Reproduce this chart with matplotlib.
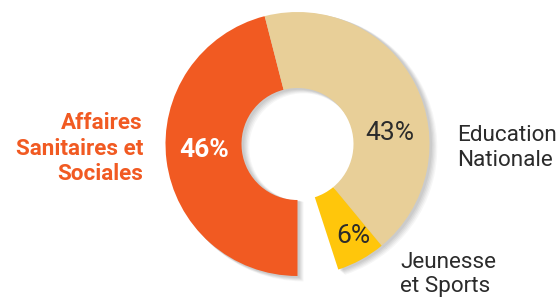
import matplotlib
matplotlib.use("Agg")
import matplotlib.pyplot as plt

# Data
labels = ["Affaires\nSanitaires et\nSociales", "Education\nNationale", "Jeunesse\net Sports"]
values = [46, 43, 6]
pct_labels = ["46%", "43%", "6%"]
colors = ["#F15A22", "#E8CF98", "#FFC60B"]
gap = 100 - sum(values)

W, H = 559, 298
fig = plt.figure(figsize=(W / 100, H / 100), dpi=100)
ax = fig.add_axes([0, 0, 1, 1])

cx, cy = 297.5, H - 144
R = 132
ring = 76

# soft shadow
for dx, a in [(6, 0.05), (5, 0.06), (4, 0.07), (3, 0.08), (2, 0.08)]:
    wed, _ = ax.pie(values + [gap], colors=["#555555"] * 3 + ["none"], startangle=270,
                    counterclock=False, radius=R + dx * 0.3, center=(cx + dx, cy - dx * 0.6),
                    wedgeprops=dict(width=ring + dx * 0.6, linewidth=0, alpha=a), frame=True)
    for w in wed:
        w.set_zorder(1)

wedges, _ = ax.pie(values + [gap], colors=colors + ["none"], startangle=270,
                   counterclock=False, radius=R, center=(cx, cy),
                   wedgeprops=dict(width=ring, linewidth=0), frame=True)
for w in wedges:
    w.set_zorder(3)
ax.set_xlim(0, W)
ax.set_ylim(0, H)
ax.set_aspect("equal")
ax.axis("off")

font = "Roboto"
dark = "#2b2b2b"
# percentage labels
ax.text(204, H - 157, pct_labels[0], color="white", fontsize=19, fontweight="bold",
        ha="center", va="baseline", family=font, zorder=5)
ax.text(390, H - 140, pct_labels[1], color=dark, fontsize=19,
        ha="center", va="baseline", family=font, zorder=5)
ax.text(353, H - 243, pct_labels[2], color=dark, fontsize=19,
        ha="center", va="baseline", family=font, zorder=5)

# category labels
ax.text(143, H - 180, labels[0], color="#F15A22", fontsize=16.2, fontweight="bold",
        ha="right", va="baseline", family=font, linespacing=1.2, zorder=5)
ax.text(457, H - 166, labels[1], color=dark, fontsize=16.2,
        ha="left", va="baseline", family=font, linespacing=1.27, zorder=5)
ax.text(400, H - 292, labels[2], color=dark, fontsize=16.2,
        ha="left", va="baseline", family=font, linespacing=1.2, zorder=5)

fig.savefig("out.png", dpi=100, facecolor="white")
